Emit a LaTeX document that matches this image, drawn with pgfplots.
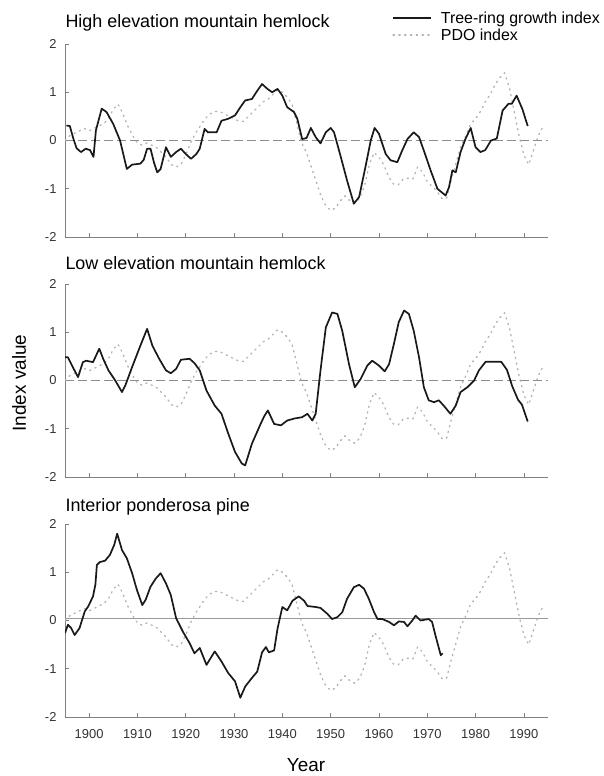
\documentclass[border=0pt]{standalone}
\usepackage{pgfplots}
\usepackage{pgfplotstable}
\pgfplotsset{compat=1.18}
\usepackage{fontspec}
\setmainfont{Liberation Sans}

% PDO index (same in every panel)
\pgfplotstableread{
year val
1895 0.00
1896 0.10
1897 0.15
1898 0.20
1899 0.25
1900 0.20
1901 0.25
1902 0.30
1903 0.35
1904 0.45
1905 0.65
1906 0.75
1907 0.55
1908 0.30
1909 0.10
1910 -0.05
1911 -0.10
1912 -0.05
1913 -0.10
1914 -0.15
1915 -0.25
1916 -0.35
1917 -0.50
1918 -0.55
1919 -0.50
1920 -0.30
1921 -0.05
1922 0.15
1923 0.30
1924 0.45
1925 0.55
1926 0.60
1927 0.60
1928 0.55
1929 0.50
1930 0.45
1931 0.40
1932 0.40
1933 0.50
1934 0.60
1935 0.70
1936 0.80
1937 0.85
1938 0.95
1939 1.05
1940 1.00
1941 0.90
1942 0.75
1943 0.35
1944 -0.05
1945 -0.25
1946 -0.55
1947 -0.85
1948 -1.15
1949 -1.35
1950 -1.45
1951 -1.40
1952 -1.25
1953 -1.15
1954 -1.25
1955 -1.30
1956 -1.20
1957 -0.95
1958 -0.50
1959 -0.25
1960 -0.35
1961 -0.50
1962 -0.75
1963 -0.90
1964 -0.92
1965 -0.80
1966 -0.78
1967 -0.80
1968 -0.55
1969 -0.65
1970 -0.85
1971 -0.95
1972 -1.05
1973 -1.20
1974 -1.20
1975 -0.80
1976 -0.45
1977 -0.10
1978 0.10
1979 0.35
1980 0.45
1981 0.60
1982 0.80
1983 0.95
1984 1.15
1985 1.30
1986 1.40
1987 1.10
1988 0.60
1989 0.10
1990 -0.30
1991 -0.50
1992 -0.20
1993 0.10
1994 0.30
}\pdo

% high elevation mountain hemlock
\pgfplotstableread{
year val
1895.3 0.31
1896.0 0.30
1896.7 0.05
1897.4 -0.16
1898.3 -0.24
1899.3 -0.17
1900.2 -0.20
1900.9 -0.34
1901.4 0.21
1902.6 0.66
1903.6 0.59
1905.0 0.34
1906.4 0.00
1907.8 -0.59
1908.9 -0.50
1910.6 -0.48
1911.3 -0.40
1912.0 -0.17
1912.7 -0.17
1913.4 -0.45
1914.1 -0.66
1914.8 -0.59
1915.9 -0.14
1916.9 -0.34
1918.0 -0.24
1919.0 -0.17
1920.0 -0.28
1921.1 -0.38
1922.2 -0.28
1922.9 -0.17
1923.9 0.24
1924.6 0.17
1926.4 0.17
1927.4 0.41
1928.8 0.45
1930.2 0.52
1931.3 0.69
1932.3 0.83
1933.7 0.86
1934.8 1.03
1935.8 1.17
1936.9 1.07
1937.9 1.00
1939.0 1.07
1940.0 0.93
1941.0 0.69
1942.4 0.59
1943.1 0.45
1944.1 0.03
1945.0 0.05
1945.9 0.26
1946.9 0.07
1947.9 -0.06
1949.0 0.17
1950.0 0.26
1950.7 0.17
1952.1 -0.34
1953.4 -0.83
1954.8 -1.31
1955.9 -1.17
1957.2 -0.55
1958.3 0.00
1959.1 0.26
1960.0 0.14
1961.4 -0.28
1962.4 -0.41
1963.8 -0.45
1964.8 -0.21
1965.9 0.03
1967.2 0.17
1968.3 0.07
1969.3 -0.21
1970.7 -0.62
1972.1 -1.00
1973.8 -1.14
1974.5 -0.97
1975.2 -0.62
1975.9 -0.66
1976.9 -0.24
1977.9 0.03
1979.0 0.26
1980.0 -0.14
1981.0 -0.24
1982.0 -0.20
1983.2 0.00
1984.4 0.04
1985.6 0.62
1986.8 0.76
1987.5 0.76
1988.5 0.93
1989.7 0.65
1990.8 0.30
}\treehigh

% low elevation mountain hemlock
\pgfplotstableread{
year val
1895.0 0.48
1895.6 0.48
1896.6 0.28
1897.7 0.07
1898.7 0.38
1899.4 0.41
1900.8 0.38
1902.1 0.66
1902.9 0.45
1904.0 0.21
1905.4 0.00
1906.8 -0.24
1907.5 -0.10
1908.9 0.28
1910.6 0.72
1912.0 1.07
1913.1 0.72
1914.5 0.45
1915.9 0.21
1916.9 0.15
1918.0 0.24
1919.0 0.43
1920.8 0.45
1921.8 0.36
1922.9 0.21
1924.3 -0.21
1926.0 -0.52
1927.4 -0.69
1928.8 -1.10
1930.2 -1.48
1931.6 -1.72
1932.3 -1.76
1933.7 -1.31
1935.5 -0.90
1936.2 -0.75
1937.0 -0.62
1938.3 -0.90
1939.7 -0.93
1941.0 -0.83
1942.4 -0.79
1944.1 -0.76
1945.2 -0.69
1946.2 -0.83
1946.9 -0.69
1947.9 0.21
1949.0 1.10
1950.3 1.41
1951.4 1.38
1952.4 1.03
1953.8 0.34
1955.0 -0.14
1956.2 0.03
1957.6 0.31
1958.6 0.41
1960.0 0.31
1961.2 0.19
1962.1 0.34
1963.1 0.76
1964.1 1.21
1965.2 1.45
1966.2 1.38
1967.2 1.03
1968.3 0.48
1969.3 -0.14
1970.3 -0.41
1971.4 -0.45
1972.4 -0.41
1973.4 -0.52
1974.8 -0.69
1975.9 -0.52
1976.9 -0.24
1978.3 -0.14
1979.7 0.00
1980.7 0.21
1982.1 0.39
1983.7 0.39
1985.3 0.39
1986.5 0.22
1987.6 -0.12
1988.8 -0.40
1989.6 -0.50
1990.8 -0.85
}\treelow

% interior ponderosa pine
\pgfplotstableread{
year val
1895.0 -0.26
1895.6 -0.09
1896.3 -0.16
1897.0 -0.30
1898.0 -0.16
1899.1 0.19
1899.8 0.29
1900.8 0.50
1901.3 0.75
1901.6 1.15
1902.2 1.21
1903.3 1.24
1904.3 1.36
1905.2 1.57
1905.8 1.80
1906.8 1.46
1907.8 1.29
1908.9 0.98
1909.9 0.63
1911.0 0.32
1911.7 0.43
1912.7 0.70
1913.8 0.87
1914.8 0.98
1915.9 0.77
1916.9 0.53
1918.0 0.05
1919.4 -0.23
1920.8 -0.47
1921.8 -0.68
1922.9 -0.57
1924.3 -0.92
1926.0 -0.64
1927.4 -0.85
1928.8 -1.09
1930.2 -1.26
1931.3 -1.60
1932.3 -1.37
1933.7 -1.19
1934.8 -1.06
1935.8 -0.66
1936.6 -0.55
1937.2 -0.66
1938.3 -0.62
1939.0 -0.17
1940.0 0.28
1941.0 0.21
1942.1 0.41
1943.4 0.50
1944.5 0.41
1945.2 0.30
1946.9 0.28
1947.9 0.26
1949.3 0.14
1950.3 0.03
1951.4 0.07
1952.4 0.17
1953.4 0.45
1954.8 0.69
1955.9 0.74
1956.9 0.66
1957.9 0.45
1959.0 0.17
1959.7 0.03
1960.7 0.03
1962.1 -0.03
1963.1 -0.10
1964.1 -0.02
1965.2 -0.03
1965.9 -0.12
1966.9 0.00
1967.6 0.10
1968.6 0.00
1969.7 0.02
1970.3 0.03
1971.0 -0.03
1971.7 -0.31
1972.8 -0.72
1973.2 -0.68
}\treepine

\pgfplotsset{
  panel/.style={
    scale only axis, width=483bp, height=193bp,
    xmin=1895, xmax=1995, ymin=-2, ymax=2,
    axis x line*=bottom, axis y line*=left,
    axis line style={draw=black!50, line width=0.8bp},
    xtick={1900,1910,...,1990}, ytick={-2,-1,0,1,2},
    yticklabels={-2,-1,0,1,2},
    tick align=inside, major tick length=4bp,
    tick style={draw=black!50, line width=0.6bp},
    ticklabel style={font=\fontsize{13}{13}\selectfont, text=black!80},
    yticklabel style={xshift=-5bp},
    xticklabel style={yshift=-9bp},
  },
  tree/.style={black!90, line width=1.7bp, line join=round},
  pdo/.style={black!30, line width=1.3bp, dash pattern=on 1.3bp off 4.5bp, line cap=round},
  zero/.style={black!45, line width=0.8bp, dash pattern=on 9bp off 4bp},
}

\begin{document}
\begin{tikzpicture}
\path[use as bounding box] (0,0) rectangle (604bp,776bp);

% panel 1
\begin{axis}[panel, at={(65bp,539bp)}, anchor=south west, xticklabels={},
  legend style={draw=none, fill=none, at={(0.677,1.18)}, anchor=north west,
    font=\fontsize{16}{18}\selectfont, row sep=0pt, inner sep=0pt},
  legend cell align=left,
  legend image code/.code={\draw[#1] (0bp,0bp) -- (38bp,0bp); \path (45bp,0bp);}]
\addplot[zero, forget plot] coordinates {(1895,0) (1995,0)};
\addplot[pdo, forget plot] table[x=year, y=val] {\pdo};
\addplot[tree] table[x=year, y=val] {\treehigh};
\addlegendentry{Tree-ring growth index}
\addlegendimage{pdo}
\addlegendentry{PDO index}
\end{axis}

% panel 2
\begin{axis}[panel, at={(65bp,299bp)}, anchor=south west, xticklabels={}]
\addplot[zero] coordinates {(1895,0) (1995,0)};
\addplot[pdo] table[x=year, y=val] {\pdo};
\addplot[tree] table[x=year, y=val] {\treelow};
\end{axis}

% panel 3
\begin{axis}[panel, at={(65bp,59bp)}, anchor=south west,
  xticklabels={1900,1910,1920,1930,1940,1950,1960,1970,1980,1990}]
\addplot[black!40, line width=0.8bp] coordinates {(1895,0.05) (1995,0.05)};
\addplot[pdo] table[x=year, y=val] {\pdo};
\addplot[tree] table[x=year, y=val] {\treepine};
\end{axis}

\node[anchor=base west, font=\fontsize{18}{18}\selectfont] at (62bp,748bp) {High elevation mountain hemlock};
\node[anchor=base west, font=\fontsize{18}{18}\selectfont] at (62bp,506bp) {Low elevation mountain hemlock};
\node[anchor=base west, font=\fontsize{18}{18}\selectfont] at (62bp,264bp) {Interior ponderosa pine};
\node[rotate=90, font=\fontsize{19}{19}\selectfont] at (19bp,393bp) {Index value};
\node[font=\fontsize{19}{19}\selectfont] at (306bp,11bp) {Year};
\end{tikzpicture}
\end{document}
